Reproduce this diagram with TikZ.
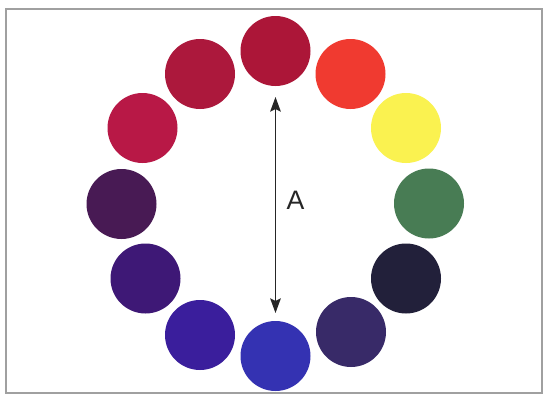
\documentclass[tikz,border=0pt]{standalone}
\usepackage{fontspec}
\setmainfont{Liberation Sans}
\usetikzlibrary{arrows.meta}
\definecolor{cA}{RGB}{172,22,56}
\definecolor{cB}{RGB}{240,58,48}
\definecolor{cC}{RGB}{250,242,80}
\definecolor{cD}{RGB}{72,124,84}
\definecolor{cE}{RGB}{34,32,58}
\definecolor{cF}{RGB}{56,42,104}
\definecolor{cG}{RGB}{52,50,178}
\definecolor{cH}{RGB}{58,30,156}
\definecolor{cI}{RGB}{62,24,118}
\definecolor{cJ}{RGB}{72,26,84}
\definecolor{cK}{RGB}{184,24,70}
\definecolor{cL}{RGB}{172,24,60}
\definecolor{frameGray}{RGB}{160,160,160}
\tikzset{
  dotc/.style={circle, inner sep=0pt, minimum size=52.5pt, fill=#1},
  tipA/.tip={Stealth[length=11pt,width=8pt,inset=2pt]},
}
\begin{document}
\begin{tikzpicture}[x=0.75pt,y=-0.75pt]
\useasboundingbox (0,0) rectangle (544,396);
\fill[white] (0,0) rectangle (544,396);
\draw[frameGray, line width=1.2pt] (6,9) rectangle (542,393);
\node[dotc=cA] (c0) at (275.5,51) {};
\node[dotc=cB] (c1) at (350.5,74) {};
\node[dotc=cC] (c2) at (406,128) {};
\node[dotc=cD] (c3) at (429,203.5) {};
\node[dotc=cE] (c4) at (406,278.5) {};
\node[dotc=cF] (c5) at (351,332) {};
\node[dotc=cG] (c6) at (275.5,356) {};
\node[dotc=cH] (c7) at (200,335) {};
\node[dotc=cI] (c8) at (145.5,278.5) {};
\node[dotc=cJ] (c9) at (121.5,204) {};
\node[dotc=cK] (c10) at (142.5,128) {};
\node[dotc=cL] (c11) at (200,74) {};
\coordinate (top) at (275.5,97);
\coordinate (bot) at (275.5,313);
\draw[black!85, line width=1.1pt, tipA-tipA] (top) -- (bot);
\node[font=\fontsize{20}{24}\selectfont, text=black!85] (A) at (295.5,200) {A};
\end{tikzpicture}
\end{document}
